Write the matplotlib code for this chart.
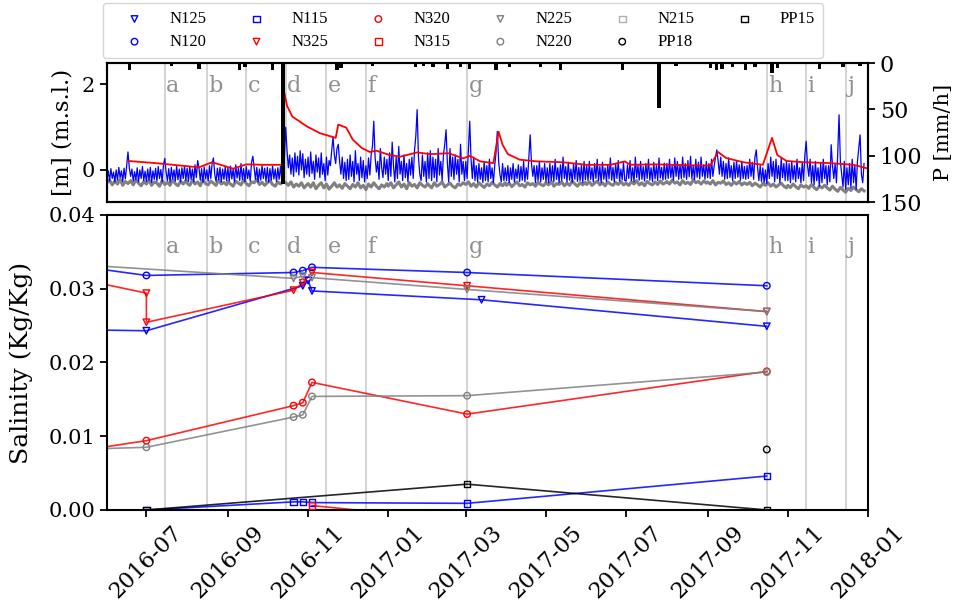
import pandas as pd
import matplotlib
matplotlib.use("Agg")
import matplotlib.pyplot as plt
import matplotlib.dates as mdates

plt.rcParams['font.family'] = ['DejaVu Serif']
plt.rcParams['font.size'] = 15

# ---------------------------------------------------------------- top panel data
# water level 1, daily values by month (m a.s.l.)
level_1 = {
    '2016-06': [-0.22, -0.02, -0.26, 0.03, -0.20, -0.05, -0.28, 0.00, -0.24, 0.06,
                -0.18, -0.02, -0.27, 0.04, -0.21, 0.10, 0.42, 0.05, -0.15, 0.02,
                -0.26, -0.04, -0.23, 0.05, -0.28, 0.00, -0.20, 0.08, -0.25, -0.03],
    '2016-07': [-0.27, 0.02, -0.24, 0.06, -0.29, -0.02, -0.22, 0.04, -0.26, 0.08,
                -0.20, 0.01, -0.28, 0.12, 0.27, -0.05, -0.25, 0.03, -0.29, 0.06,
                -0.21, 0.00, -0.26, 0.09, -0.23, 0.02, -0.28, 0.05, -0.20, 0.10, -0.25],
    '2016-08': [0.04, -0.27, 0.08, -0.22, 0.02, -0.28, 0.12, -0.18, 0.22, 0.05,
                -0.24, 0.03, -0.29, 0.07, -0.21, 0.00, -0.26, 0.10, -0.20, 0.15,
                0.28, -0.10, -0.27, 0.04, -0.23, 0.06, -0.28, 0.02, -0.22, 0.08, -0.25],
    '2016-09': [0.05, -0.26, 0.09, -0.21, 0.02, -0.28, 0.12, -0.19, 0.04, -0.25,
                0.15, -0.22, 0.03, -0.27, 0.08, -0.20, 0.00, -0.26, 0.18, 0.32,
                0.05, -0.22, 0.06, -0.28, 0.02, -0.24, 0.10, -0.20, 0.04, -0.27],
    '2016-10': [0.06, -0.28, 0.03, -0.24, 0.09, -0.21, 0.02, -0.27, 0.05, -0.22,
                0.08, -0.25, 0.12, 0.30, 1.00, 0.45, 0.05, 0.35, -0.10, 0.28,
                -0.15, 0.40, -0.05, 0.32, -0.12, 0.45, 0.00, 0.38, -0.18, 0.25, -0.10],
    '2016-11': [0.30, -0.15, 0.42, -0.08, 0.20, -0.22, 0.35, -0.05, 0.28, -0.18,
                0.40, -0.10, 0.15, -0.25, 0.30, -0.12, 0.22, 0.10, 0.45, 0.77,
                0.35, 0.15, 0.50, 0.60, 0.20, -0.10, 0.30, -0.20, 0.18, -0.25],
    '2016-12': [0.25, -0.22, 0.35, -0.15, 0.20, -0.28, 0.45, -0.10, 0.15, -0.25,
                0.30, -0.18, 0.22, -0.28, 0.10, -0.20, 0.28, -0.12, 0.35, 0.55,
                1.14, 0.30, -0.05, 0.20, -0.22, 0.50, 0.05, -0.18, 0.30, -0.10, 0.25],
    '2017-01': [-0.25, 0.40, -0.15, 0.65, 0.10, -0.28, 0.30, -0.20, 0.55, -0.10,
                0.20, -0.25, 0.35, -0.18, 0.15, -0.28, 0.25, -0.12, 0.30, -0.20,
                0.45, 0.80, 1.41, 0.30, -0.10, -0.25, 0.35, -0.15, 0.20, -0.28, 0.40],
    '2017-02': [-0.20, 0.45, -0.25, 0.30, -0.18, 0.25, -0.28, 0.50, -0.12, 0.20,
                -0.25, 0.35, 0.60, 0.94, 0.15, -0.28, 0.50, -0.15, 0.30, -0.22,
                0.35, -0.10, 0.25, -0.28, 0.60, -0.10, 0.20, -0.25],
    '2017-03': [0.20, -0.20, 0.45, 1.14, 0.25, -0.20, 0.30, -0.25, 0.10, -0.28,
                0.15, -0.22, 0.05, -0.30, 0.20, -0.25, 0.10, -0.28, 0.25, -0.20,
                0.05, -0.30, 0.10, 0.40, 0.90, 0.20, -0.10, -0.28, 0.15, -0.25, 0.05],
    '2017-04': [-0.25, 0.10, -0.30, 0.05, -0.22, 0.15, -0.28, 0.02, -0.20, 0.12,
                -0.27, 0.08, -0.24, 0.20, -0.28, 0.05, -0.22, 0.30, 0.82, 0.15,
                -0.15, 0.10, -0.30, 0.10, -0.25, 0.20, -0.28, 0.05, -0.22, 0.15],
    '2017-05': [-0.28, 0.05, -0.30, 0.15, -0.25, 0.10, -0.28, 0.25, -0.22, 0.05,
                -0.30, 0.12, -0.25, 0.30, -0.20, 0.08, -0.28, 0.18, -0.24, 0.02,
                -0.29, 0.15, -0.22, 0.22, -0.27, 0.06, -0.25, 0.12, -0.30, 0.20, -0.23],
    '2017-06': [0.10, -0.25, 0.20, -0.22, 0.05, -0.28, 0.15, -0.20, 0.25, -0.25,
                0.08, -0.30, 0.18, -0.22, 0.05, -0.27, 0.12, -0.21, 0.28, -0.24,
                0.06, -0.28, 0.15, -0.20, 0.22, -0.26, 0.02, -0.23, 0.18, -0.25],
    '2017-07': [-0.26, 0.12, -0.20, 0.22, -0.25, 0.05, -0.28, 0.30, -0.18, 0.10,
                -0.24, 0.20, -0.22, 0.08, -0.26, 0.15, -0.20, 0.25, -0.24, 0.05,
                -0.27, 0.18, -0.21, 0.10, -0.25, 0.28, -0.19, 0.06, -0.24, 0.16, -0.22],
    '2017-08': [0.15, -0.20, 0.25, -0.18, 0.10, -0.24, 0.28, -0.15, 0.20, -0.22,
                0.12, -0.20, 0.30, -0.18, 0.15, -0.22, 0.22, -0.16, 0.32, -0.20,
                0.10, -0.23, 0.25, -0.17, 0.18, -0.21, 0.30, -0.15, 0.12, -0.22, 0.20],
    '2017-09': [-0.18, 0.15, -0.20, 0.25, -0.15, 0.10, 0.30, 0.47, 0.20, -0.10,
                0.30, -0.15, 0.20, -0.22, 0.15, -0.20, 0.28, -0.18, 0.10, -0.25,
                0.18, -0.20, 0.22, -0.17, 0.12, -0.24, 0.20, -0.20, 0.08, -0.22],
    '2017-10': [0.10, -0.20, 0.25, -0.15, 0.18, -0.22, 0.30, 0.47, 0.05, -0.25,
                0.10, -0.28, 0.05, -0.30, 0.00, -0.32, 0.15, -0.20, 0.30, -0.15,
                0.20, -0.28, 0.25, -0.20, 0.10, -0.30, 0.28, -0.18, 0.15, -0.25, 0.20],
    '2017-11': [-0.25, 0.15, -0.30, 0.20, -0.22, 0.10, -0.28, 0.25, -0.20, 0.05,
                -0.30, 0.18, -0.25, 0.35, 0.67, 0.10, -0.15, 0.25, -0.30, 0.10,
                -0.35, 0.20, -0.25, 0.05, -0.38, 0.15, -0.30, 0.25, -0.20, 0.10],
    '2017-12': [-0.35, 0.10, -0.28, 0.59, 0.10, -0.20, 0.15, -0.30, 0.40, 1.29,
                0.20, -0.10, -0.40, 0.20, -0.45, 0.05, -0.35, 0.15, -0.42, 0.25,
                -0.30, 0.10, -0.45, 0.20, 0.50, 0.82, -0.10, -0.30, 0.15],
}

# water level 2, values every second day by month
level_2 = {
    '2016-06': [-0.30, -0.24, -0.35, -0.26, -0.33, -0.22, -0.36, -0.27, -0.32, -0.25, -0.35, -0.23, -0.31, -0.37, -0.27],
    '2016-07': [-0.33, -0.24, -0.36, -0.28, -0.31, -0.38, -0.25, -0.34, -0.29, -0.36, -0.23, -0.32, -0.37, -0.27, -0.33, -0.25],
    '2016-08': [-0.31, -0.36, -0.24, -0.33, -0.28, -0.37, -0.22, -0.32, -0.35, -0.26, -0.31, -0.36, -0.24, -0.33, -0.29, -0.35],
    '2016-09': [-0.27, -0.33, -0.38, -0.26, -0.31, -0.35, -0.23, -0.32, -0.37, -0.28, -0.30, -0.22, -0.34, -0.29, -0.36],
    '2016-10': [-0.30, -0.25, -0.34, -0.38, -0.28, -0.33, -0.26, -0.30, -0.36, -0.28, -0.40, -0.33, -0.38, -0.30, -0.42, -0.35],
    '2016-11': [-0.32, -0.40, -0.30, -0.44, -0.36, -0.30, -0.42, -0.33, -0.45, -0.38, -0.30, -0.40, -0.35, -0.43, -0.32],
    '2016-12': [-0.38, -0.44, -0.34, -0.40, -0.30, -0.42, -0.36, -0.46, -0.33, -0.40, -0.30, -0.38, -0.44, -0.35, -0.40, -0.32],
    '2017-01': [-0.38, -0.30, -0.42, -0.35, -0.28, -0.40, -0.33, -0.44, -0.30, -0.38, -0.34, -0.42, -0.30, -0.36, -0.40, -0.32],
    '2017-02': [-0.36, -0.42, -0.30, -0.38, -0.34, -0.28, -0.40, -0.35, -0.31, -0.38, -0.42, -0.33, -0.36, -0.30],
    '2017-03': [-0.34, -0.28, -0.38, -0.32, -0.40, -0.30, -0.36, -0.41, -0.33, -0.37, -0.29, -0.35, -0.40, -0.32, -0.37, -0.30],
    '2017-04': [-0.36, -0.31, -0.39, -0.33, -0.28, -0.37, -0.34, -0.40, -0.30, -0.35, -0.32, -0.38, -0.29, -0.34, -0.37],
    '2017-05': [-0.30, -0.35, -0.27, -0.38, -0.32, -0.34, -0.28, -0.37, -0.31, -0.36, -0.26, -0.33, -0.38, -0.30, -0.35, -0.29],
    '2017-06': [-0.34, -0.28, -0.36, -0.31, -0.26, -0.35, -0.30, -0.37, -0.28, -0.33, -0.36, -0.29, -0.34, -0.27, -0.35],
    '2017-07': [-0.31, -0.36, -0.28, -0.33, -0.25, -0.35, -0.30, -0.37, -0.27, -0.32, -0.35, -0.28, -0.34, -0.26, -0.33, -0.30],
    '2017-08': [-0.27, -0.33, -0.24, -0.31, -0.28, -0.35, -0.25, -0.32, -0.29, -0.34, -0.23, -0.30, -0.27, -0.33, -0.26, -0.31],
    '2017-09': [-0.28, -0.33, -0.25, -0.35, -0.29, -0.31, -0.26, -0.34, -0.30, -0.36, -0.28, -0.33, -0.27, -0.35, -0.30],
    '2017-10': [-0.34, -0.29, -0.37, -0.31, -0.35, -0.40, -0.32, -0.36, -0.30, -0.38, -0.33, -0.40, -0.35, -0.31, -0.38, -0.42],
    '2017-11': [-0.36, -0.41, -0.33, -0.39, -0.44, -0.35, -0.40, -0.37, -0.43, -0.34, -0.41, -0.46, -0.38, -0.42, -0.36],
    '2017-12': [-0.42, -0.47, -0.38, -0.45, -0.50, -0.41, -0.47, -0.52, -0.43, -0.48, -0.40, -0.46, -0.51, -0.44, -0.49],
}

# groundwater head
head_dates = [
    '2016-06-17', '2016-07-08', '2016-07-31', '2016-08-10', '2016-08-20', '2016-09-05',
    '2016-09-15', '2016-09-28', '2016-10-12', '2016-10-14', '2016-10-16', '2016-10-20',
    '2016-10-31', '2016-11-10', '2016-11-22', '2016-11-24', '2016-11-30', '2016-12-05',
    '2016-12-12', '2016-12-18', '2016-12-23', '2017-01-02', '2017-01-10', '2017-01-23',
    '2017-02-02', '2017-02-16', '2017-02-27', '2017-03-04', '2017-03-12', '2017-03-22',
    '2017-03-26', '2017-03-29', '2017-04-02', '2017-04-11', '2017-04-24', '2017-05-14',
    '2017-06-01', '2017-06-19', '2017-06-30', '2017-07-04', '2017-07-24', '2017-08-16',
    '2017-09-03', '2017-09-09', '2017-09-15', '2017-09-28', '2017-10-13', '2017-10-20',
    '2017-10-24', '2017-10-31', '2017-11-13', '2017-12-03', '2017-12-21', '2017-12-31',
]
head_values = [
    0.21, 0.16, 0.09, 0.06, 0.18, 0.03,
    0.13, 0.12, 0.12, 1.80, 1.50, 1.25,
    1.02, 0.86, 0.75, 1.06, 0.99, 0.71,
    0.51, 0.42, 0.45, 0.35, 0.31, 0.41,
    0.37, 0.39, 0.27, 0.33, 0.20, 0.16,
    0.89, 0.59, 0.37, 0.24, 0.20, 0.18,
    0.12, 0.12, 0.20, 0.12, 0.13, 0.11,
    0.10, 0.42, 0.28, 0.18, 0.12, 0.75,
    0.35, 0.21, 0.18, 0.16, 0.12, 0.04,
]

# precipitation intensity
rain_dates = [
    '2016-06-18', '2016-07-20', '2016-08-10', '2016-09-10', '2016-09-14', '2016-10-05',
    '2016-10-13', '2016-11-23', '2016-11-26', '2016-12-20', '2017-01-22', '2017-01-28',
    '2017-02-04', '2017-02-15', '2017-02-25', '2017-03-04', '2017-03-24', '2017-04-03',
    '2017-04-27', '2017-05-12', '2017-06-28', '2017-07-26', '2017-08-08', '2017-09-03',
    '2017-09-08', '2017-09-12', '2017-09-20', '2017-09-30', '2017-10-07', '2017-10-20',
    '2017-10-24', '2017-11-25', '2017-12-13', '2017-12-26',
]
rain_mmh = [
    8, 3, 6, 7, 4, 7,
    131, 8, 5, 3, 4, 3,
    4, 6, 4, 6, 8, 4,
    4, 8, 7, 48, 3, 5,
    8, 6, 4, 8, 4, 11,
    5, 6, 4, 3,
]

# ---------------------------------------------------------------- salinity samples
N125_dates = ['2016-05-25', '2016-07-01', '2016-10-28', '2016-11-01', '2016-11-04', '2017-03-13', '2017-10-16']
N125_vals = [0.0244, 0.0243, 0.0304, 0.0311, 0.0297, 0.0285, 0.0249]
N120_dates = ['2016-05-25', '2016-07-01', '2016-10-21', '2016-10-28', '2016-11-04', '2017-03-02', '2017-10-16']
N120_vals = [0.0327, 0.0318, 0.0322, 0.03245, 0.0329, 0.0322, 0.0304]
N115_dates = ['2016-07-01', '2016-10-21', '2016-10-28', '2016-11-04', '2017-03-02', '2017-10-16']
N115_vals = [0.0, 0.0011, 0.0011, 0.0010, 0.0009, 0.0046]
N325_dates = ['2016-05-25', '2016-07-01', '2016-07-01', '2016-10-21', '2016-10-28', '2016-11-04', '2017-03-02', '2017-10-16']
N325_vals = [0.0308, 0.0294, 0.02545, 0.0298, 0.0308, 0.0322, 0.0304, 0.0269]
N320_dates = ['2016-05-25', '2016-07-01', '2016-10-21', '2016-10-28', '2016-11-04', '2017-03-02', '2017-10-16']
N320_vals = [0.0084, 0.0094, 0.01415, 0.01455, 0.0173, 0.0130, 0.0188]
N315_dates = ['2016-11-04', '2017-03-02']
N315_vals = [0.0006, -0.0015]
N225_dates = ['2016-05-25', '2016-10-21', '2016-10-28', '2016-11-04', '2017-03-02', '2017-10-16']
N225_vals = [0.0331, 0.0314, 0.0317, 0.0315, 0.0299, 0.0269]
N220_dates = ['2016-05-25', '2016-07-01', '2016-10-21', '2016-10-28', '2016-11-04', '2017-03-02', '2017-10-16']
N220_vals = [0.0083, 0.0085, 0.0126, 0.0129, 0.0154, 0.0155, 0.0187]
N215_dates = []
N215_vals = []
PP18_dates = ['2017-10-16']
PP18_vals = [0.0082]
PP15_dates = ['2016-07-01', '2017-03-02', '2017-10-16']
PP15_vals = [0.0, 0.0035, 0.0]

# campaign markers
event_labels = ['a', 'b', 'c', 'd', 'e', 'f', 'g', 'h', 'i', 'j']
event_dates = ['2016-07-15', '2016-08-16', '2016-09-15', '2016-10-15', '2016-11-15',
               '2016-12-15', '2017-03-02', '2017-10-16', '2017-11-15', '2017-12-15']


def month_series(blocks, step_days):
    """Join month blocks into one time series sampled every step_days."""
    parts = []
    for month, vals in blocks.items():
        idx = pd.date_range(month + '-01', periods=len(vals), freq=f'{step_days}D')
        parts.append(pd.Series(vals, index=idx))
    return pd.concat(parts)


# ---------------------------------------------------------------- figure
fig = plt.figure(figsize=(9.61, 6.09), dpi=100)
ax_top = fig.add_axes([0.1113, 0.6683, 0.7919, 0.2282])
ax_bot = fig.add_axes([0.1113, 0.1626, 0.7919, 0.4844], sharex=ax_top)

xmin, xmax = pd.Timestamp('2016-06-01'), pd.Timestamp('2018-01-01')
ev = pd.to_datetime(event_dates)

# top panel: water levels and rainfall
s1 = month_series(level_1, 1)
s2 = month_series(level_2, 2)
for d in ev:
    ax_top.axvline(d, color='#d0d0d0', lw=1.3, zorder=0)
ax_top.plot(s2.index, s2.values, color='grey', lw=2.2, zorder=2)
ax_top.plot(s1.index, s1.values, color='blue', lw=0.9, zorder=3)
ax_top.plot(pd.to_datetime(head_dates), head_values, color='red', lw=1.3, zorder=4)
for lab, d in zip(event_labels, ev):
    ax_top.text(d + pd.Timedelta(days=1), 1.97, lab, color='#909090', fontsize=16,
                ha='left', va='center', zorder=5)
ax_top.set_ylim(-0.75, 2.5)
ax_top.set_yticks([0, 2])
ax_top.set_ylabel('[m] (m.s.l.)', fontsize=16.5, labelpad=6)
ax_top.tick_params(axis='x', bottom=False, labelbottom=False)

ax_p = ax_top.twinx()
ax_p.bar(pd.to_datetime(rain_dates), rain_mmh, width=2.5, color='black', zorder=3)
ax_p.set_ylim(150, 0)
ax_p.set_yticks([0, 50, 100, 150])
ax_p.tick_params(axis='y', labelsize=16)
ax_p.set_ylabel('P [mm/h]', fontsize=15, labelpad=8)

# bottom panel: salinity samples
series = [
    ('N125', N125_dates, N125_vals, 'blue', 'v'),
    ('N120', N120_dates, N120_vals, 'blue', 'o'),
    ('N115', N115_dates, N115_vals, 'blue', 's'),
    ('N325', N325_dates, N325_vals, 'red', 'v'),
    ('N320', N320_dates, N320_vals, 'red', 'o'),
    ('N315', N315_dates, N315_vals, 'red', 's'),
    ('N225', N225_dates, N225_vals, 'grey', 'v'),
    ('N220', N220_dates, N220_vals, 'grey', 'o'),
    ('N215', N215_dates, N215_vals, '#b0b0b0', 's'),
    ('PP18', PP18_dates, PP18_vals, 'black', 'o'),
    ('PP15', PP15_dates, PP15_vals, 'black', 's'),
]
for d in ev:
    ax_bot.axvline(d, color='#d0d0d0', lw=1.3, zorder=0)
for name, dates, vals, col, mk in series:
    dd = pd.to_datetime(dates)
    ax_bot.plot(dd, vals, color=col, lw=1.2, alpha=0.85, zorder=2)
    ax_bot.scatter(dd, vals, s=22, marker=mk, facecolors='none', edgecolors=col,
                   linewidths=1.0, label=name, zorder=3)
for lab, d in zip(event_labels, ev):
    ax_bot.text(d + pd.Timedelta(days=1), 0.0357, lab, color='#909090', fontsize=16,
                ha='left', va='center', zorder=5)
ax_bot.set_ylim(0, 0.04)
ax_bot.set_yticks([0, 0.01, 0.02, 0.03, 0.04])
ax_bot.yaxis.set_major_formatter(plt.FormatStrFormatter('%.2f'))
ax_bot.set_ylabel('Salinity (Kg/Kg)', fontsize=18, labelpad=11)
ax_bot.set_xlim(xmin, xmax)
ax_bot.xaxis.set_major_locator(mdates.MonthLocator(bymonth=[1, 3, 5, 7, 9, 11]))
ax_bot.xaxis.set_major_formatter(mdates.DateFormatter('%Y-%m'))
plt.setp(ax_bot.get_xticklabels(), rotation=45, ha='center', fontsize=16)

for a in (ax_top, ax_bot, ax_p):
    for s in a.spines.values():
        s.set_linewidth(1.5)
    a.tick_params(width=1.3, length=5)

handles, labels = ax_bot.get_legend_handles_labels()
fig.legend(handles, labels, ncol=6, loc='upper left', bbox_to_anchor=(0.107, 0.995),
           prop={'family': 'Liberation Serif', 'size': 12}, columnspacing=1.6,
           handlelength=2.8, handletextpad=0.7, borderpad=0.5, labelspacing=0.4,
           scatterpoints=1, borderaxespad=0.0)

fig.savefig('out.png', dpi=100)
